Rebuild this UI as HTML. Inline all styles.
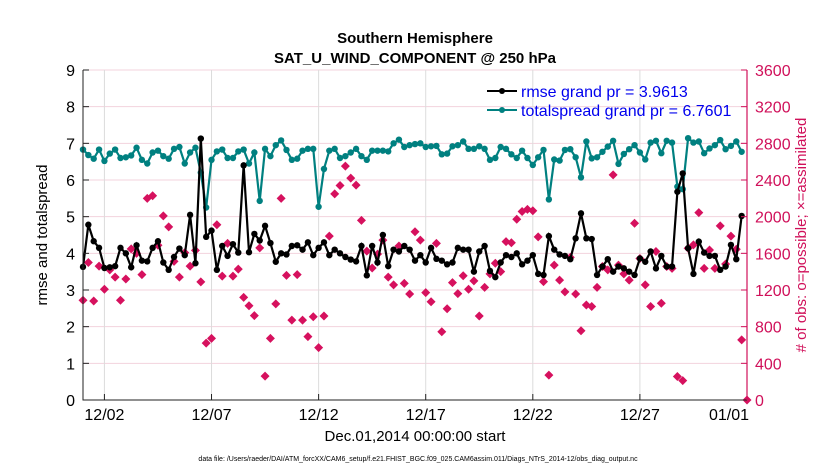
<!DOCTYPE html>
<html><head><meta charset="utf-8"><style>
body{margin:0;background:#fff;}
svg text{font-family:"Liberation Sans",sans-serif;}
</style></head><body>
<svg id="chart" width="830" height="470" viewBox="0 0 830 470" xmlns="http://www.w3.org/2000/svg">
<g id="grid"></g>
<g id="series"></g>
<g id="axes"></g>
<text x="415" y="43" text-anchor="middle" font-size="15" font-weight="bold">Southern Hemisphere</text>
<text x="415" y="63" text-anchor="middle" font-size="15" font-weight="bold">SAT_U_WIND_COMPONENT @ 250 hPa</text>
<text transform="translate(47,235) rotate(-90)" text-anchor="middle" font-size="15">rmse and totalspread</text>
<text transform="translate(806,235) rotate(-90)" text-anchor="middle" font-size="15" fill="#d0105a">#  of obs: o=possible; ×=assimilated</text>
<text x="415" y="441" text-anchor="middle" font-size="15">Dec.01,2014 00:00:00 start</text>
<text x="418" y="461" text-anchor="middle" font-size="7">data file: /Users/raeder/DAI/ATM_forcXX/CAM6_setup/f.e21.FHIST_BGC.f09_025.CAM6assim.011/Diags_NTrS_2014-12/obs_diag_output.nc</text>
<g>
<line x1="487" y1="91" x2="517" y2="91" stroke="#000" stroke-width="2"/><circle cx="502" cy="91" r="3" fill="#000"/>
<text x="521" y="97" font-size="16" fill="#0000ee">rmse grand pr = 3.9613</text>
<line x1="487" y1="110" x2="517" y2="110" stroke="#008080" stroke-width="2"/><circle cx="502" cy="110" r="3" fill="#008080"/>
<text x="521" y="116" font-size="16" fill="#0000ee">totalspread grand pr = 6.7601</text>
</g>
</svg>
<script>
const rmse=[3.63,4.78,4.33,4.15,3.6,3.62,3.65,4.15,4.0,3.62,4.22,3.8,3.78,4.15,4.33,3.75,3.55,3.9,4.13,3.95,5.05,3.73,7.13,4.45,4.62,3.55,4.2,3.93,4.25,4.02,6.4,4.03,4.53,4.35,4.75,4.28,3.77,4.0,3.97,4.2,
4.22,4.1,4.3,3.95,4.15,4.3,3.95,4.1,4.0,3.9,3.83,3.78,4.2,3.4,4.2,3.75,4.5,3.65,4.1,4.05,4.2,4.1,3.8,3.95,3.75,4.15,3.85,3.8,3.7,3.75,4.15,4.1,4.1,3.5,4.05,4.2,3.52,3.35,3.75,3.95,3.9,4.0,3.7,3.8,
3.95,3.44,3.41,4.47,4.1,3.97,3.93,3.84,4.41,5.09,4.41,4.39,3.41,3.64,3.84,3.5,3.64,3.59,3.5,3.41,3.86,3.77,4.05,3.59,3.93,3.64,3.64,5.68,6.18,4.14,3.44,4.32,4.02,3.93,3.93,3.55,3.64,4.23,3.84,5.02];
const spread=[6.83,6.68,6.58,6.83,6.52,6.72,6.83,6.6,6.62,6.67,6.88,6.55,6.45,6.75,6.8,6.65,6.58,6.85,6.9,6.45,6.75,6.88,
6.2,5.25,6.55,6.78,6.83,6.6,6.6,6.78,6.83,6.45,6.75,5.43,6.85,6.65,6.95,7.08,6.82,6.55,
6.58,6.8,6.85,6.85,5.27,6.3,6.8,6.85,6.6,6.65,6.75,6.85,6.65,6.55,6.8,6.8,6.8,6.78,7.0,7.1,6.9,6.95,6.98,7.0,6.9,6.92,6.93,6.7,6.72,6.92,6.95,7.05,6.85,6.85,6.92,6.85,6.55,6.6,6.9,6.85,6.7,6.6,6.8,6.6,
6.41,6.62,6.82,5.47,6.56,6.53,6.82,6.84,6.62,6.07,7.05,6.59,6.62,6.77,6.91,7.07,6.44,6.71,6.84,6.95,6.75,6.56,7.02,7.07,6.73,7.07,7.02,5.82,5.75,7.14,7.02,7.05,6.73,6.86,6.95,7.09,6.84,6.93,7.05,6.77];
const obsCount=[1088,1500,1080,1460,1208,1420,1340,1088,1320,1648,1600,1368,2200,2228,1688,2008,1888,1512,1340,1608,1460,1632,1288,620,672,1912,1352,1708,1352,1428,1120,1028,920,1660,260,672,1048,2200,1360,872,
1368,872,692,908,572,916,1788,2248,2340,2552,2420,2344,1960,1624,1440,1592,1744,1340,1256,1680,1272,1156,1836,1744,1172,1072,1708,744,996,1280,1160,1356,1208,1300,916,1228,1376,1492,1400,1728,1716,1972,2056,2080,
2064,1780,1292,272,1472,1308,1180,1556,1156,756,1036,1020,1228,1456,1420,2456,1472,1376,1308,1928,1544,1256,1020,1620,1056,1456,1436,256,212,1656,1692,2044,1436,1636,1436,1900,1484,1788,1644,656,0];
const leftTicks=[0,1,2,3,4,5,6,7,8,9];
const rightTicks=[0,400,800,1200,1600,2000,2400,2800,3200,3600];
const dateTicks=[1,6,11,16,21,26,31];
const dateLabels=["12/02","12/07","12/12","12/17","12/22","12/27","01/01"];
const stepDays=0.25;

const NS="http://www.w3.org/2000/svg";
const L=83,R=747,T=70,B=400;
const xS=d=>L+(d/31)*(R-L);
const yL=v=>B-(v/9)*(B-T);
const yR=v=>B-(v/3600)*(B-T);
function mk(tag,parent,attrs){const e=document.createElementNS(NS,tag);for(const k in attrs)e.setAttribute(k,attrs[k]);parent.appendChild(e);return e;}
const grid=document.getElementById('grid'),ser=document.getElementById('series'),ax=document.getElementById('axes');
leftTicks.forEach(v=>{
  const g=mk('line',grid,{x1:L,x2:R,y1:yL(v),y2:yL(v),stroke:'#f3d3dd','stroke-width':1});
  
  
  const t=mk('text',ax,{x:L-8,y:yL(v)+6,'text-anchor':'end','font-size':16});
  t.textContent=v;
  
  
  const tk=mk('line',ax,{x1:L,x2:L+6,y1:yL(v),y2:yL(v),stroke:'#222'});
  
  
});
rightTicks.forEach(v=>{
  const t=mk('text',ax,{x:R+8,y:yR(v)+6,'font-size':16,fill:'#d0105a'});
  t.textContent=v;
  
  
  const tk=mk('line',ax,{x1:R-6,x2:R,y1:yR(v),y2:yR(v),stroke:'#d0105a'});
  
  
});
dateTicks.forEach((d,i)=>{
  const g=mk('line',grid,{x1:xS(d),x2:xS(d),y1:T,y2:B,stroke:'#dcdcdc'});
  
  
  const last=i===dateTicks.length-1;
  const t=mk('text',ax,{x:last?xS(d)+2:xS(d),y:B+20,'text-anchor':last?'end':'middle','font-size':16});
  t.textContent=dateLabels[i];
  
  
  const tk=mk('line',ax,{x1:xS(d),x2:xS(d),y1:B-6,y2:B,stroke:'#222'});
  
  
});
const a1=mk('path',ax,{d:`M${L},${T} V${B} H${R}`,fill:'none',stroke:'#222','stroke-width':1});


const a2=mk('line',ax,{x1:R,x2:R,y1:T,y2:B,stroke:'#d0105a','stroke-width':1.2});



obsCount.forEach((c,i)=>{
  const x=xS(i*stepDays),y=yR(c);
  const m=mk('path',ser,{d:`M${x-4.5},${y} L${x},${y-4.5} L${x+4.5},${y} L${x},${y+4.5}Z`,fill:'#d6115e'});
  
  
});
function line(arr,color,name){
  const pts=arr.map((v,i)=>[xS(i*stepDays),yL(v)]);
  const p=mk('polyline',ser,{points:pts.map(q=>q.join(',')).join(' '),fill:'none',stroke:color,'stroke-width':2.2});
  
  
  pts.forEach(q=>{
    const c=mk('circle',ser,{cx:q[0],cy:q[1],r:3.2,fill:color});
    
    
  });
}
line(spread,'#008080','totalspread');
line(rmse,'#000000','rmse');
</script>
</body></html>
